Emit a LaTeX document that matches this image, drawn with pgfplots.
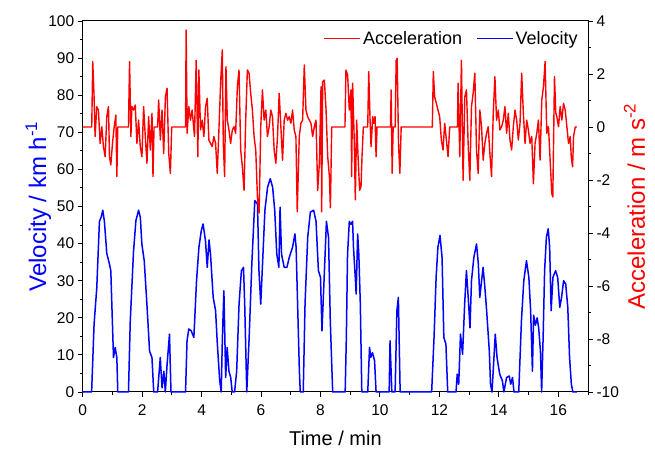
\documentclass[border=0pt]{standalone}
\usepackage{pgfplots}
\pgfplotsset{compat=1.18}
\usepackage{fontspec}
\setmainfont{Liberation Sans}
\begin{document}
\begin{tikzpicture}
\pgfplotsset{
 common/.style={
  scale only axis, width=505.3pt, height=371pt,
  xmin=0, xmax=17,
  /pgf/number format/assume math mode=true,
  tick align=outside,
  major tick length=5pt, minor tick length=3pt,
  every tick/.style={black, line width=0.9pt},
  ticklabel style={font=\fontsize{15.5}{17}\selectfont},
  axis line style={line width=1pt},
  clip=false,
 }
}
\begin{axis}[common,
 ymin=0, ymax=100,
 xtick={0,2,...,16}, minor xtick={1,3,...,17},
 ytick={0,10,...,100}, minor ytick={5,15,...,95},
 xtick pos=bottom, ytick pos=left,
 xticklabel style={yshift=-4pt},
 xlabel={Time / min}, ylabel={Velocity / km h\textsuperscript{-1}},
 xlabel style={font=\fontsize{20}{24}\selectfont, at={(axis description cs:0.5,-0.125)}, anchor=center},
 ylabel style={font=\fontsize{24}{28}\selectfont, color=blue, at={(axis description cs:-0.088,0.5)}, anchor=center},
]
\addplot[blue, line width=1.5pt, line join=round] coordinates {
(0,0) (0.3,0) (0.383,18.3) (0.473,28.0) (0.563,46.0) (0.62,47.1) (0.676,49) (0.73,46) (0.811,37.3) (0.9,34.5) (0.946,32.7) (0.98,23.7) (1.036,9.3) (1.092,12) (1.149,9.3) (1.18,0)
(1.54,0) (1.6,19.1) (1.71,37.9) (1.79,46.2) (1.88,49) (1.94,47) (1.99,39.9) (2.07,35.4) (2.16,23.7) (2.25,11.0) (2.33,9.3) (2.39,0)
(2.52,0) (2.61,9.3) (2.67,1.1) (2.73,5.6) (2.78,0) (2.84,7.5) (2.92,15.6) (2.97,0)
(3.46,0) (3.51,13.8) (3.57,17) (3.65,16.5) (3.74,14.7) (3.83,30) (3.91,39) (3.99,43.5) (4.05,45.3) (4.13,40.8) (4.19,33.6) (4.25,41) (4.30,37.1) (4.39,25.5) (4.47,22) (4.53,12.9) (4.61,3) (4.66,0)
(4.70,14.7) (4.75,27.3) (4.81,3.9) (4.86,12) (4.92,5.6) (4.98,3.9) (5.03,0) (5.11,0) (5.18,5.6) (5.26,23.7) (5.34,32.7) (5.41,33.6) (5.45,23.7) (5.52,0)
(5.60,14.7) (5.69,34.5) (5.79,51.6) (5.88,50.7) (5.93,32.7) (5.99,23.7) (6.05,34.5) (6.13,49) (6.22,55.2) (6.31,57.5) (6.39,55.2) (6.46,49) (6.53,37.1) (6.60,33.6) (6.64,49.8) (6.69,37.1) (6.78,33.6) (6.87,33.6) (6.95,36.3) (7.06,39) (7.14,42.6) (7.18,39) (7.23,23.7) (7.29,5.6) (7.32,0)
(7.42,0) (7.48,23.7) (7.57,41.7) (7.66,48.5) (7.77,49) (7.85,46) (7.93,32.7) (8.0,30.9) (8.05,16.5) (8.11,28.2) (8.2,46) (8.27,41.7) (8.33,19.1) (8.41,0)
(8.83,0) (8.87,14.7) (8.91,37.1) (8.97,46) (9.02,45.2) (9.08,46) (9.11,39) (9.17,30.9) (9.2,26.4) (9.25,42.6) (9.29,37.1) (9.34,23.7) (9.39,0)
(9.59,0) (9.65,12) (9.69,9.3) (9.75,10.6) (9.82,8.4) (9.87,0)
(10.31,0) (10.34,13.8) (10.40,0) (10.51,0) (10.57,21.9) (10.62,25.5) (10.68,0)
(11.74,0) (11.82,14.7) (11.89,30.9) (11.95,39) (12.02,42.2) (12.09,36.3) (12.15,14.7) (12.22,12.9) (12.28,0)
(12.56,0) (12.60,4.8) (12.65,2.1) (12.71,15.6) (12.78,10.2) (12.85,23.7) (12.91,32.7) (12.97,25.5) (13.03,17.3) (13.08,30) (13.16,36.3) (13.25,39.9) (13.31,34.5) (13.36,25.5) (13.42,30) (13.47,33.6) (13.53,28.2) (13.59,21.9) (13.68,11) (13.72,2.1) (13.77,0)
(13.81,5.6) (13.88,15.6) (13.94,9.3) (14.03,4.8) (14.12,3) (14.17,0) (14.26,3.9) (14.35,4.3) (14.40,2.1) (14.46,3.9) (14.51,0)
(14.67,0) (14.76,19.1) (14.84,30) (14.93,35.4) (15.01,30.9) (15.07,21.9) (15.13,5.6) (15.17,20.7) (15.23,18) (15.29,20) (15.34,17.3) (15.40,11) (15.44,0)
(15.49,14.7) (15.54,32.7) (15.60,41.7) (15.66,44) (15.71,39) (15.76,21.9) (15.82,30.9) (15.91,32.7) (15.98,30.9) (16.05,22.8) (16.11,25.5) (16.18,30) (16.25,29.1) (16.32,22.8) (16.38,9.3) (16.44,2.1) (16.49,0) (16.63,0)
};
\end{axis}
\begin{axis}[common,
 ymin=-10, ymax=4,
 ytick={-10,-8,...,4}, minor ytick={-9,-7,...,3},
 axis x line=none, axis y line*=right, ytick pos=right,
 ylabel={Acceleration / m s\textsuperscript{-2}},
 ylabel style={font=\fontsize{24}{28}\selectfont, color=red, at={(axis description cs:1.092,0.5)}, anchor=center},
 legend style={draw=none, fill=none, at={(0.99,0.984)}, anchor=north east,
   font=\fontsize{18}{20}\selectfont, legend columns=2,
   /tikz/every even column/.append style={column sep=12pt}},
 legend image code/.code={\draw[#1,line width=1.5pt] (0pt,0pt) -- (36pt,0pt);},
]
\addplot[red, line width=1.4pt, line join=round] coordinates {
(0,0) (0.304,0) (0.338,2.47) (0.383,1.14) (0.417,-0.36) (0.473,0.77) (0.529,0.64) (0.586,-0.62) (0.642,0.01) (0.698,-0.74) (0.755,-1.12) (0.811,0.39) (0.867,0.77) (0.901,-1.12) (0.946,-1.43) (1.002,-0.62) (1.059,0.01) (1.115,0.45) (1.149,-1.87) (1.18,0)
(1.54,0) (1.577,2.47) (1.622,-0.36) (1.655,0.77) (1.712,0.64) (1.768,0.83) (1.824,-0.62) (1.88,0.26) (1.937,-0.74) (1.993,-1.12) (2.05,0.77) (2.106,-0.36) (2.162,-1.37) (2.218,0.39) (2.275,-0.87) (2.331,0.52) (2.365,-1.87) (2.40,0)
(2.52,0) (2.556,1.02) (2.613,-0.49) (2.669,0.64) (2.725,-1.0) (2.782,1.14) (2.838,1.46) (2.894,-1.0) (2.95,-1.75) (2.995,0)
(3.46,0) (3.48,3.66) (3.514,-0.24) (3.57,0.77) (3.626,0.26) (3.682,0.64) (3.761,-0.36) (3.818,2.52) (3.874,-1.12) (3.908,2.15) (3.964,-0.11) (4.02,0.26) (4.077,-0.36) (4.133,0.77) (4.189,1.08) (4.245,-0.49) (4.302,-0.62) (4.358,-0.74) (4.414,-0.36) (4.471,-0.62) (4.527,-1.75) (4.583,-0.11) (4.64,1.65) (4.696,2.91) (4.73,-0.62) (4.775,-1.87) (4.82,2.28) (4.865,0.26) (4.921,-0.11) (4.977,-0.62) (5.034,-0.11) (5.09,0.01) (5.146,-0.24) (5.203,1.52) (5.259,2.15) (5.315,-0.87) (5.372,-1.5) (5.428,-2.39) (5.484,0.26) (5.54,2.15) (5.597,2.03) (5.653,1.27) (5.709,0.64) (5.766,-0.36) (5.822,-0.87) (5.878,-2.64) (5.935,-3.25) (5.99,0.01) (6.047,1.40) (6.104,0.26) (6.16,0.64) (6.216,-0.36) (6.273,0.01) (6.329,0.64) (6.385,0.39) (6.441,-0.87) (6.498,-1.37) (6.554,-0.36) (6.61,1.27) (6.667,0.01) (6.723,-1.25) (6.779,0.26) (6.836,0.52) (6.892,0.26) (6.948,0.39) (7.005,0.14) (7.061,0.64) (7.117,-0.11) (7.173,-0.36) (7.218,-3.2) (7.286,-0.36) (7.342,0.14) (7.399,0.26) (7.455,2.34) (7.511,0.64) (7.568,0.39) (7.624,0.26) (7.68,0.14) (7.736,-0.36) (7.793,0.01) (7.849,0.26) (7.905,-2.4) (7.962,-1.37) (8.018,1.52) (8.04,-3.2) (8.074,1.71) (8.131,1.77) (8.187,0.64) (8.243,-1.12) (8.30,-1.87) (8.333,-3.05) (8.378,0)
(8.823,0) (8.857,2.15) (8.913,1.96) (8.969,0.64) (9.026,1.40) (9.048,-1.87) (9.082,1.65) (9.138,-0.62) (9.172,-2.75) (9.217,0.26) (9.273,-1.37) (9.318,-2.39) (9.363,-2.26) (9.397,-1.12) (9.442,0)
(9.589,0) (9.623,2.09) (9.668,0.26) (9.701,-0.74) (9.758,0.39) (9.791,0.14) (9.836,0.39) (9.870,-1.12) (9.904,0)
(10.354,0) (10.377,1.40) (10.411,-1.75) (10.445,0) (10.512,0) (10.546,2.52) (10.58,2.59) (10.625,-0.62) (10.67,-1.75) (10.715,0)
(11.762,0) (11.796,2.09) (11.841,1.14) (11.897,0.89) (11.954,0.64) (12.01,0.39) (12.066,-0.49) (12.123,-0.87) (12.179,0.14) (12.235,-0.49) (12.291,-1.12) (12.348,0)
(12.607,0) (12.629,1.65) (12.686,-1.12) (12.742,2.52) (12.798,-2.01) (12.855,1.14) (12.911,1.40) (12.967,-0.62) (13.024,-2.01) (13.08,0.77) (13.136,1.27) (13.192,2.03) (13.249,-0.87) (13.305,-1.75) (13.361,0.64) (13.418,0.01) (13.474,-1.25) (13.53,-0.62) (13.587,-0.24) (13.643,0.01) (13.699,-1.0) (13.755,-1.87) (13.812,0.52) (13.868,1.90) (13.924,0.26) (13.981,0.64) (14.037,-0.11) (14.093,0.01) (14.15,0.26) (14.206,0.77) (14.262,-0.24) (14.318,0.52) (14.375,-0.49) (14.431,-0.87) (14.487,0.01) (14.544,0.64) (14.60,0.26) (14.656,-0.49) (14.713,0.14) (14.769,2.03) (14.825,0.52) (14.882,-0.62) (14.938,0.26) (14.994,-0.11) (15.05,-0.62) (15.107,-0.36) (15.163,-2.14) (15.219,-0.62) (15.276,-0.24) (15.332,0.26) (15.388,-1.25) (15.445,1.02) (15.501,1.52) (15.557,2.47) (15.613,-0.24) (15.67,0.01) (15.726,-1.25) (15.782,-2.51) (15.816,-2.64) (15.872,1.90) (15.917,0.52) (15.951,0.39) (16.008,0.01) (16.064,0.77) (16.12,0.26) (16.176,0.89) (16.233,0.64) (16.289,0.01) (16.345,-0.62) (16.402,-0.36) (16.436,-1.12) (16.481,-1.5) (16.514,-0.36) (16.57,0) (16.627,0)
};
\addlegendentry{Acceleration}
\addlegendimage{blue}
\addlegendentry{Velocity}
\end{axis}
\pgfresetboundingbox
\path[use as bounding box] ([xshift=-82.7pt,yshift=-59pt]current axis.south west) rectangle ([xshift=67pt,yshift=21pt]current axis.north east);
\end{tikzpicture}
\end{document}
